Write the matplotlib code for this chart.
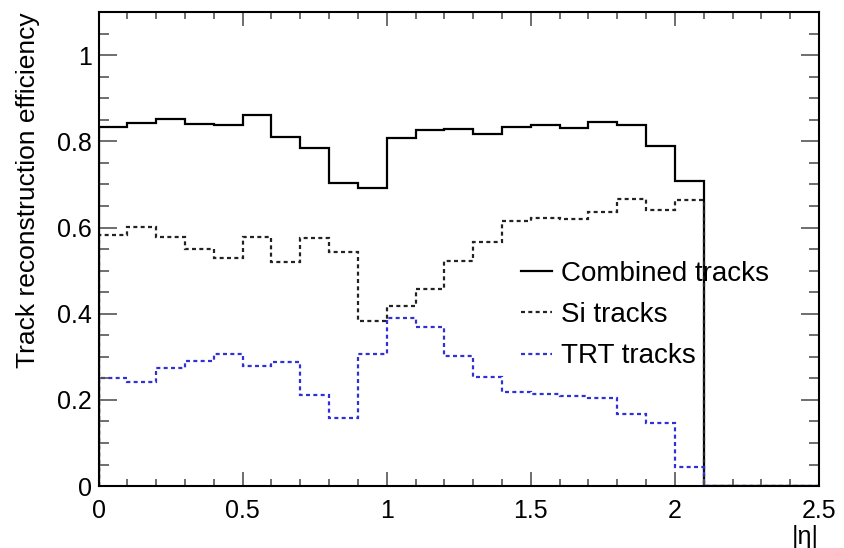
import numpy as np
import matplotlib
matplotlib.use('Agg')
import matplotlib.pyplot as plt
from matplotlib.ticker import MultipleLocator

plt.rcParams['font.family'] = ['Liberation Sans', 'DejaVu Sans']

# |eta| bin edges, 0.1 wide
eta_edges = np.linspace(0, 2.5, 26)

combined = [0.834, 0.842, 0.852, 0.840, 0.838, 0.861, 0.810, 0.784, 0.704, 0.691,
            0.807, 0.826, 0.828, 0.818, 0.834, 0.838, 0.830, 0.844, 0.838, 0.789,
            0.707, 0, 0, 0, 0]
si_tracks = [0.583, 0.601, 0.577, 0.549, 0.529, 0.578, 0.521, 0.575, 0.544, 0.382,
             0.417, 0.457, 0.522, 0.567, 0.614, 0.623, 0.619, 0.637, 0.666, 0.640,
             0.664, 0, 0, 0, 0]
trt_tracks = [0.251, 0.241, 0.275, 0.290, 0.306, 0.279, 0.289, 0.211, 0.158, 0.306,
              0.390, 0.368, 0.301, 0.253, 0.219, 0.213, 0.209, 0.205, 0.168, 0.147,
              0.045, 0, 0, 0, 0]

x_ticks = [0, 0.5, 1.0, 1.5, 2.0, 2.5]
x_labels = ['0', '0.5', '1', '1.5', '2', '2.5']
y_ticks = [0, 0.2, 0.4, 0.6, 0.8, 1.0]
y_labels = ['0', '0.2', '0.4', '0.6', '0.8', '1']

fig = plt.figure(figsize=(8.45, 5.48), dpi=100)
ax = fig.add_axes([0.1166, 0.113, 0.8526, 0.865])

dots = (0, (1.8, 1.5))
ax.stairs(combined, eta_edges, color='black', lw=1.6, label='Combined tracks')
ax.stairs(si_tracks, eta_edges, color='#222222', lw=1.6, ls=dots, label='Si tracks')
ax.stairs(trt_tracks, eta_edges, color='#3030d8', lw=1.6, ls=dots, label='TRT tracks')

ax.set_xlim(0, 2.5)
ax.set_ylim(0, 1.1)
ax.set_xticks(x_ticks)
ax.set_xticklabels(x_labels)
ax.set_yticks(y_ticks)
ax.set_yticklabels(y_labels)
ax.xaxis.set_minor_locator(MultipleLocator(0.1))
ax.yaxis.set_minor_locator(MultipleLocator(0.05))
ax.tick_params(which='both', direction='in', top=True, right=True, labelsize=18,
               color='#555555', width=1.2)
ax.tick_params(axis='x', which='major', length=10, pad=9)
ax.tick_params(axis='x', which='minor', length=5)
ax.tick_params(axis='y', which='major', length=13, pad=5)
ax.tick_params(axis='y', which='minor', length=7)
for s in ax.spines.values():
    s.set_linewidth(1.5)

ax.set_ylabel('Track reconstruction efficiency', fontsize=19, loc='top', labelpad=12)
ax.set_xlabel('|η|', fontsize=18, loc='right', labelpad=2)

ax.legend(loc='center left', bbox_to_anchor=(0.552, 0.361), frameon=False, fontsize=20,
          handlelength=1.1, handletextpad=0.35, labelspacing=0.55)

fig.savefig('out.png', dpi=100)
